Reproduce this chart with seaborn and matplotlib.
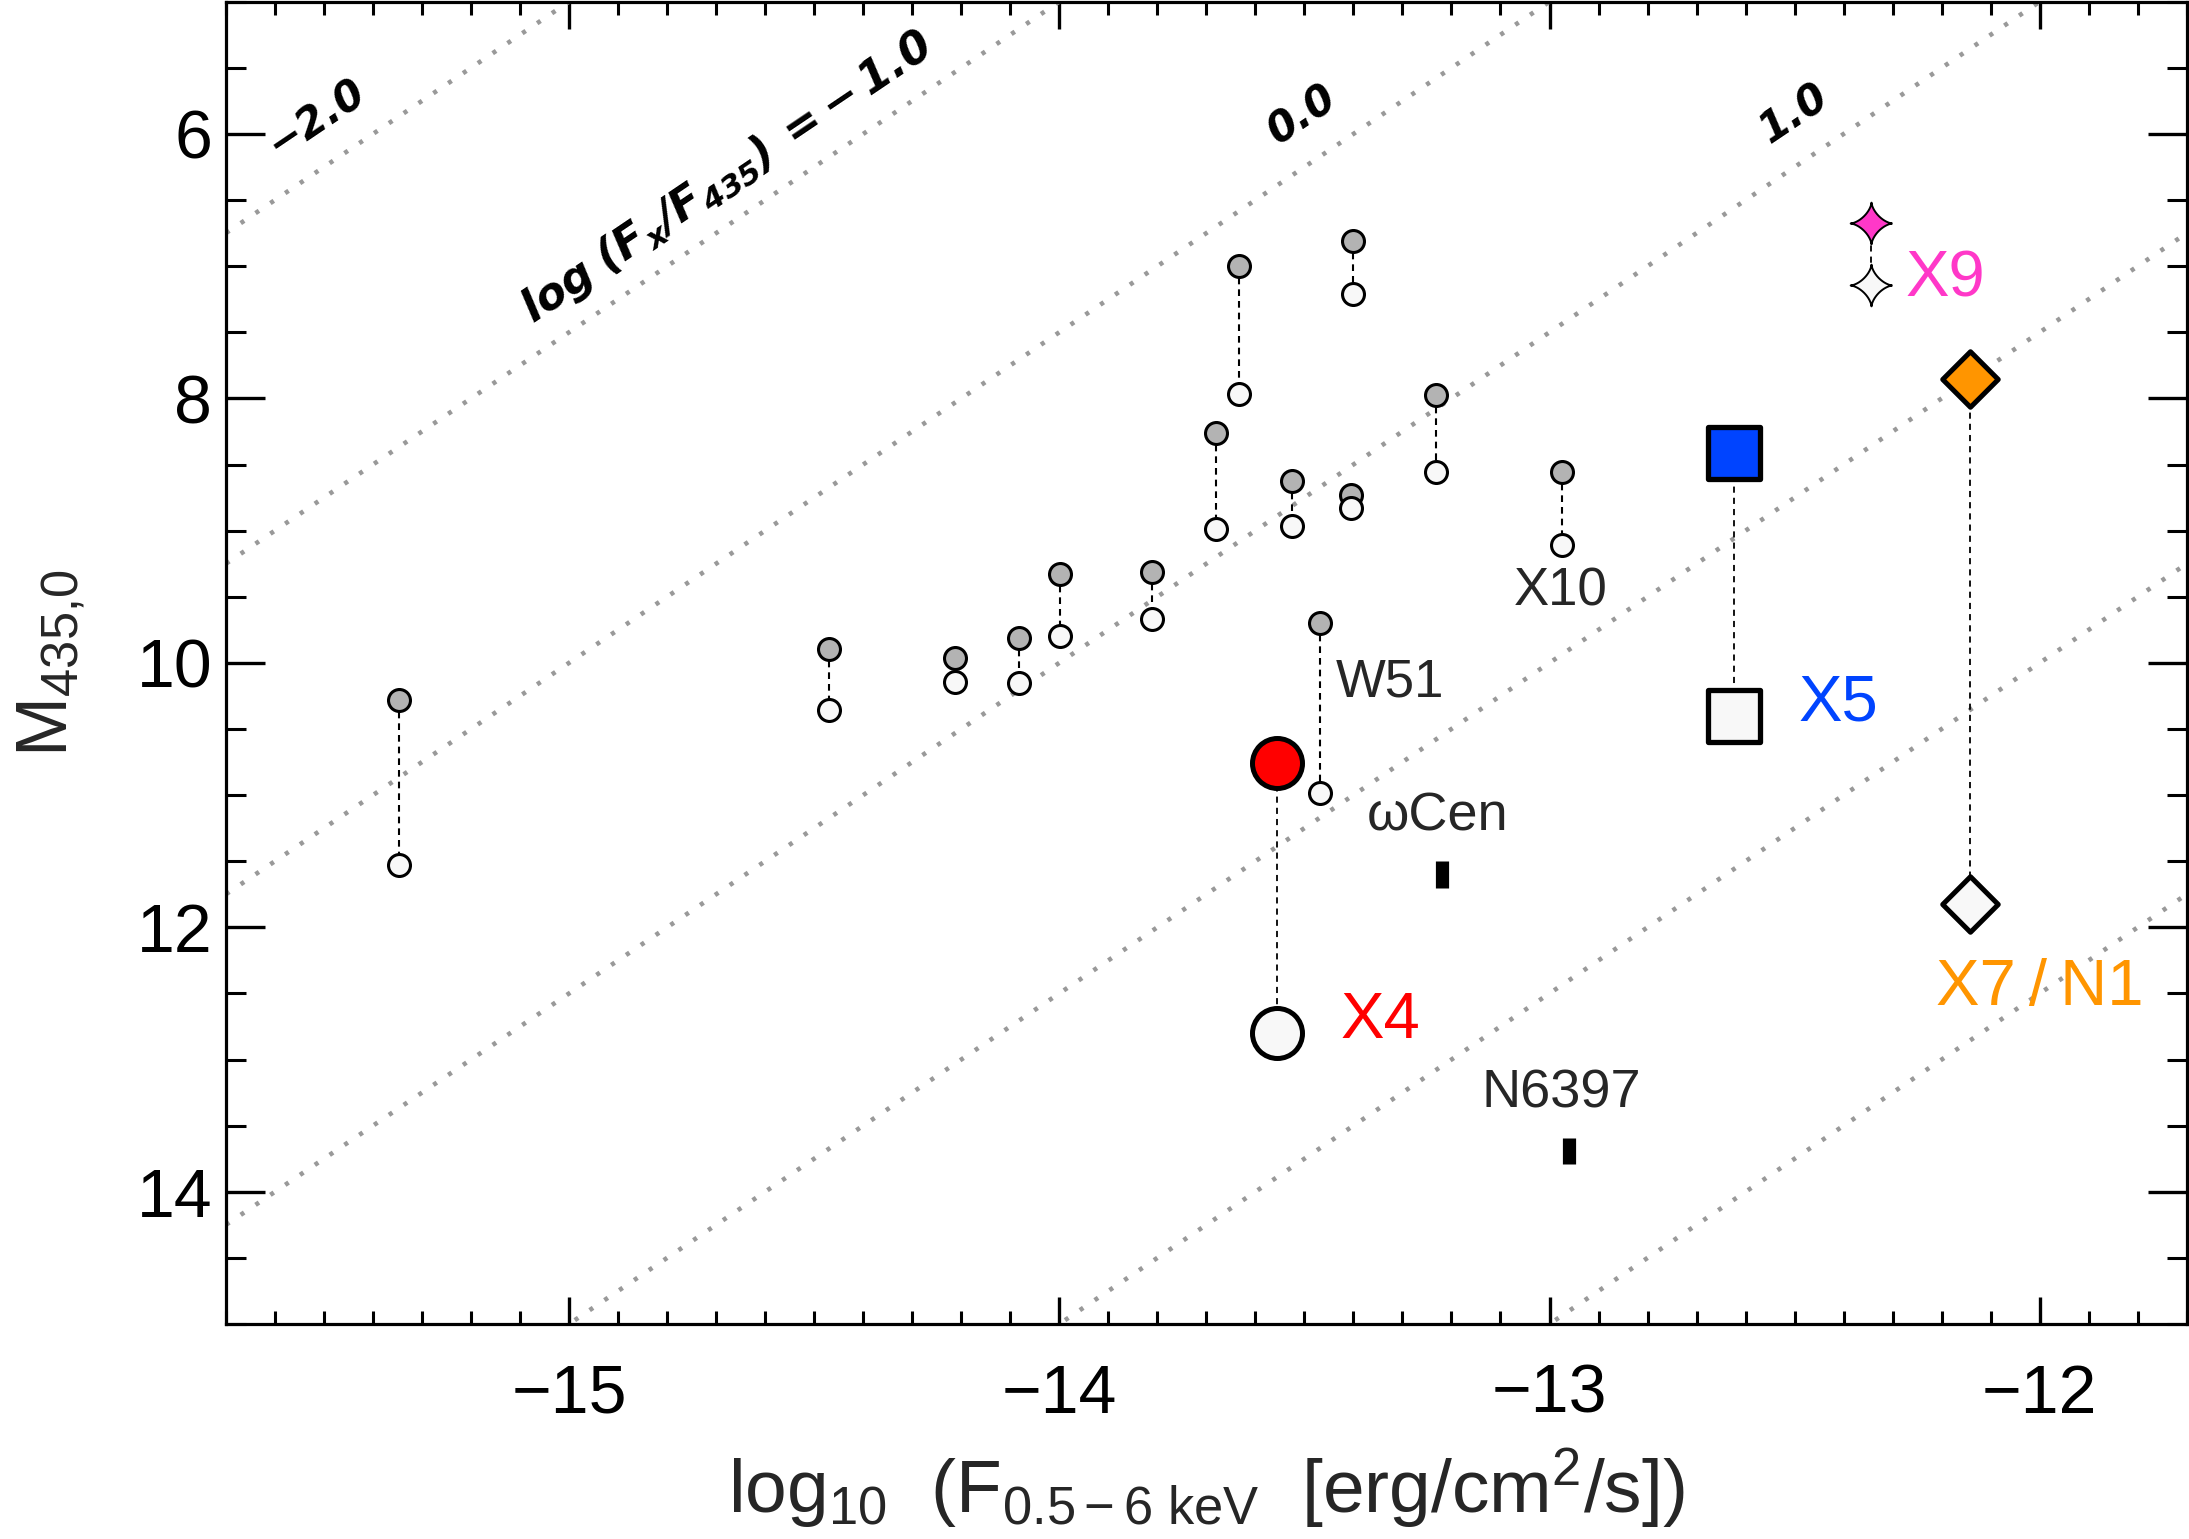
import numpy as np
import matplotlib
matplotlib.use('Agg')
import matplotlib.pyplot as plt
from matplotlib.path import Path
from matplotlib.ticker import MultipleLocator
import seaborn as sns

# paired sources: grey = brighter value, white = fainter value (same X-ray flux)
pair_flux = [-15.347, -14.469, -14.212, -14.083, -13.999, -13.811, -13.680,
             -13.633, -13.525, -13.400, -13.405, -13.231, -12.975, -13.469]
pair_mag_grey = [10.28, 9.895, 9.965, 9.81, 9.331, 9.313, 8.258,
                 7.002, 8.626, 6.813, 8.727, 7.977, 8.558, 9.696]
pair_mag_white = [11.53, 10.356, 10.142, 10.154, 9.795, 9.666, 8.991,
                  7.964, 8.966, 7.211, 8.828, 8.560, 9.109, 10.985]

# highlighted sources
src_names = ['X4', 'X5', 'X7/N1', 'X9']
src_flux = [-13.556, -12.624, -12.143, -12.344]
src_mag_top = [10.758, 8.41, 7.85, 6.672]
src_mag_bottom = [12.803, 10.40, 11.82, 7.146]
src_colors = ['#ff0000', '#0044ff', '#ff9500', '#ff38c8']

# comparison clusters
gc_names = ['\u03c9Cen', 'N6397']
gc_flux = [-13.220, -12.960]
gc_mag = [11.60, 13.69]
gc_err = [0.10, 0.10]

# lines of constant log(Fx/F435)
ratio_vals = [-2.0, -1.0, 0.0, 1.0, 2.0, 3.0, 4.0]
ratio_zp = -27.5
ratio_labels = ['\u22122.0', r'$\mathbf{log\ (F_{x}/F_{435})\ =\!-1.0}$', '0.0', '1.0']


def run():
    sns.set_style('ticks')
    plt.rcParams['font.family'] = ['Liberation Sans', 'DejaVu Sans']
    plt.rcParams['mathtext.fontset'] = 'custom'
    plt.rcParams['mathtext.rm'] = 'Liberation Sans'
    plt.rcParams['mathtext.it'] = 'Liberation Sans:italic'
    plt.rcParams['mathtext.bf'] = 'DejaVu Sans:italic:bold'

    fig = plt.figure(figsize=(21.89, 15.39), dpi=100)
    ax = fig.add_axes([0.1032, 0.1397, 0.8958, 0.8592])

    xlim = (-15.7, -11.7)
    ax.set_xlim(*xlim)
    ax.set_ylim(15, 5)

    # dotted flux-ratio lines
    xs = np.array(xlim)
    for r in ratio_vals:
        ax.plot(xs, 2.5 * (r - xs) + ratio_zp, color='#999999', lw=3.3,
                ls=(0, (0.9, 3.0)), zorder=1)

    label_pos = [(-15.515, 5.885), (-14.678, 6.33), (-13.505, 5.855), (-12.502, 5.85)]
    label_size = [30, 32, 30, 30]
    for txt, (lx, ly), fs in zip(ratio_labels, label_pos, label_size):
        ax.text(lx, ly, txt, rotation=34, ha='center', va='center', fontsize=fs,
                family='DejaVu Sans', fontweight='bold', fontstyle='italic',
                color='k', zorder=3)

    # connectors
    ax.vlines(pair_flux, pair_mag_grey, pair_mag_white, colors='k', lw=1.5,
              linestyles=[(0, (3.2, 2.4))], zorder=2)
    ax.vlines(src_flux, src_mag_top, src_mag_bottom, colors='k', lw=1.3,
              linestyles=[(0, (3.4, 2.8))], zorder=2)

    # small pairs
    sns.scatterplot(x=pair_flux, y=pair_mag_grey, s=250, color='#b3b3b3',
                    edgecolor='k', linewidth=2.2, zorder=4, ax=ax)
    sns.scatterplot(x=pair_flux, y=pair_mag_white, s=250, color='#f8f8f8',
                    edgecolor='k', linewidth=2.2, zorder=5, ax=ax)

    # highlighted sources
    t = np.linspace(0, 2 * np.pi, 81)
    star = Path(np.column_stack([np.cos(t) ** 3, np.sin(t) ** 3]))
    markers = ['o', 's', 'D', star]
    sizes = [1296, 1369, 800, 900]
    edges = [3.6, 3.8, 3.6, 1.4]
    for i in range(len(src_names)):
        sns.scatterplot(x=[src_flux[i]], y=[src_mag_top[i]], marker=markers[i],
                        s=sizes[i], color=src_colors[i], edgecolor='k',
                        linewidth=edges[i], zorder=6, ax=ax)
        sns.scatterplot(x=[src_flux[i]], y=[src_mag_bottom[i]], marker=markers[i],
                        s=sizes[i], color='#f8f8f8', edgecolor='k',
                        linewidth=edges[i], zorder=6, ax=ax)

    src_text = {'X4': (-13.426, 12.71, 'left'), 'X5': (-12.492, 10.31, 'left'),
                'X7/N1': (-12.0, 12.46, 'center'), 'X9': (-12.274, 7.1, 'left')}
    for name, col in zip(src_names, src_colors):
        lx, ly, ha = src_text[name]
        label = name.replace('/', '\u2009/\u2009')
        ax.text(lx, ly, label, color=col, fontsize=47, ha=ha, va='center', zorder=7)

    ax.text(-13.436, 10.15, 'W51', fontsize=38, ha='left', va='center', zorder=7)
    ax.text(-12.977, 9.46, 'X10', fontsize=38, ha='center', va='center', zorder=7)

    # globular cluster reference bars
    ax.errorbar(gc_flux, gc_mag, yerr=gc_err, fmt='none', ecolor='k',
                elinewidth=9.5, capsize=0, zorder=6)
    gc_text = [(-13.228, 11.16), (-12.975, 13.26)]
    for name, (lx, ly) in zip(gc_names, gc_text):
        ax.text(lx, ly, name, fontsize=39, ha='center', va='center', zorder=7)

    # axes styling
    for sp in ax.spines.values():
        sp.set_linewidth(2.3)
        sp.set_color('k')
    ax.xaxis.set_major_locator(MultipleLocator(1))
    ax.xaxis.set_minor_locator(MultipleLocator(0.1))
    ax.yaxis.set_major_locator(MultipleLocator(2))
    ax.yaxis.set_minor_locator(MultipleLocator(0.5))
    ax.tick_params(which='both', direction='in', top=True, right=True, colors='k')
    ax.tick_params(axis='x', which='major', length=19.4, width=2.4, labelsize=49, pad=28)
    ax.tick_params(axis='x', which='minor', length=9.7, width=2.2)
    ax.tick_params(axis='y', which='major', length=28, width=2.4, labelsize=49, pad=10)
    ax.tick_params(axis='y', which='minor', length=14.4, width=2.2)

    ax.set_xlabel(r'$\mathrm{log_{10}\ \ (F_{0.5-6\ keV}\ \ [erg/cm^{2}/s])}$', fontsize=54)
    ax.set_ylabel(r'$\mathrm{M_{435{,}0}}$', fontsize=52)
    ax.xaxis.set_label_coords(0.5, -0.092)
    ax.yaxis.set_label_coords(-0.071, 0.5)

    fig.savefig('out.png', dpi=100)
    plt.close(fig)


if __name__ == '__main__':
    run()
